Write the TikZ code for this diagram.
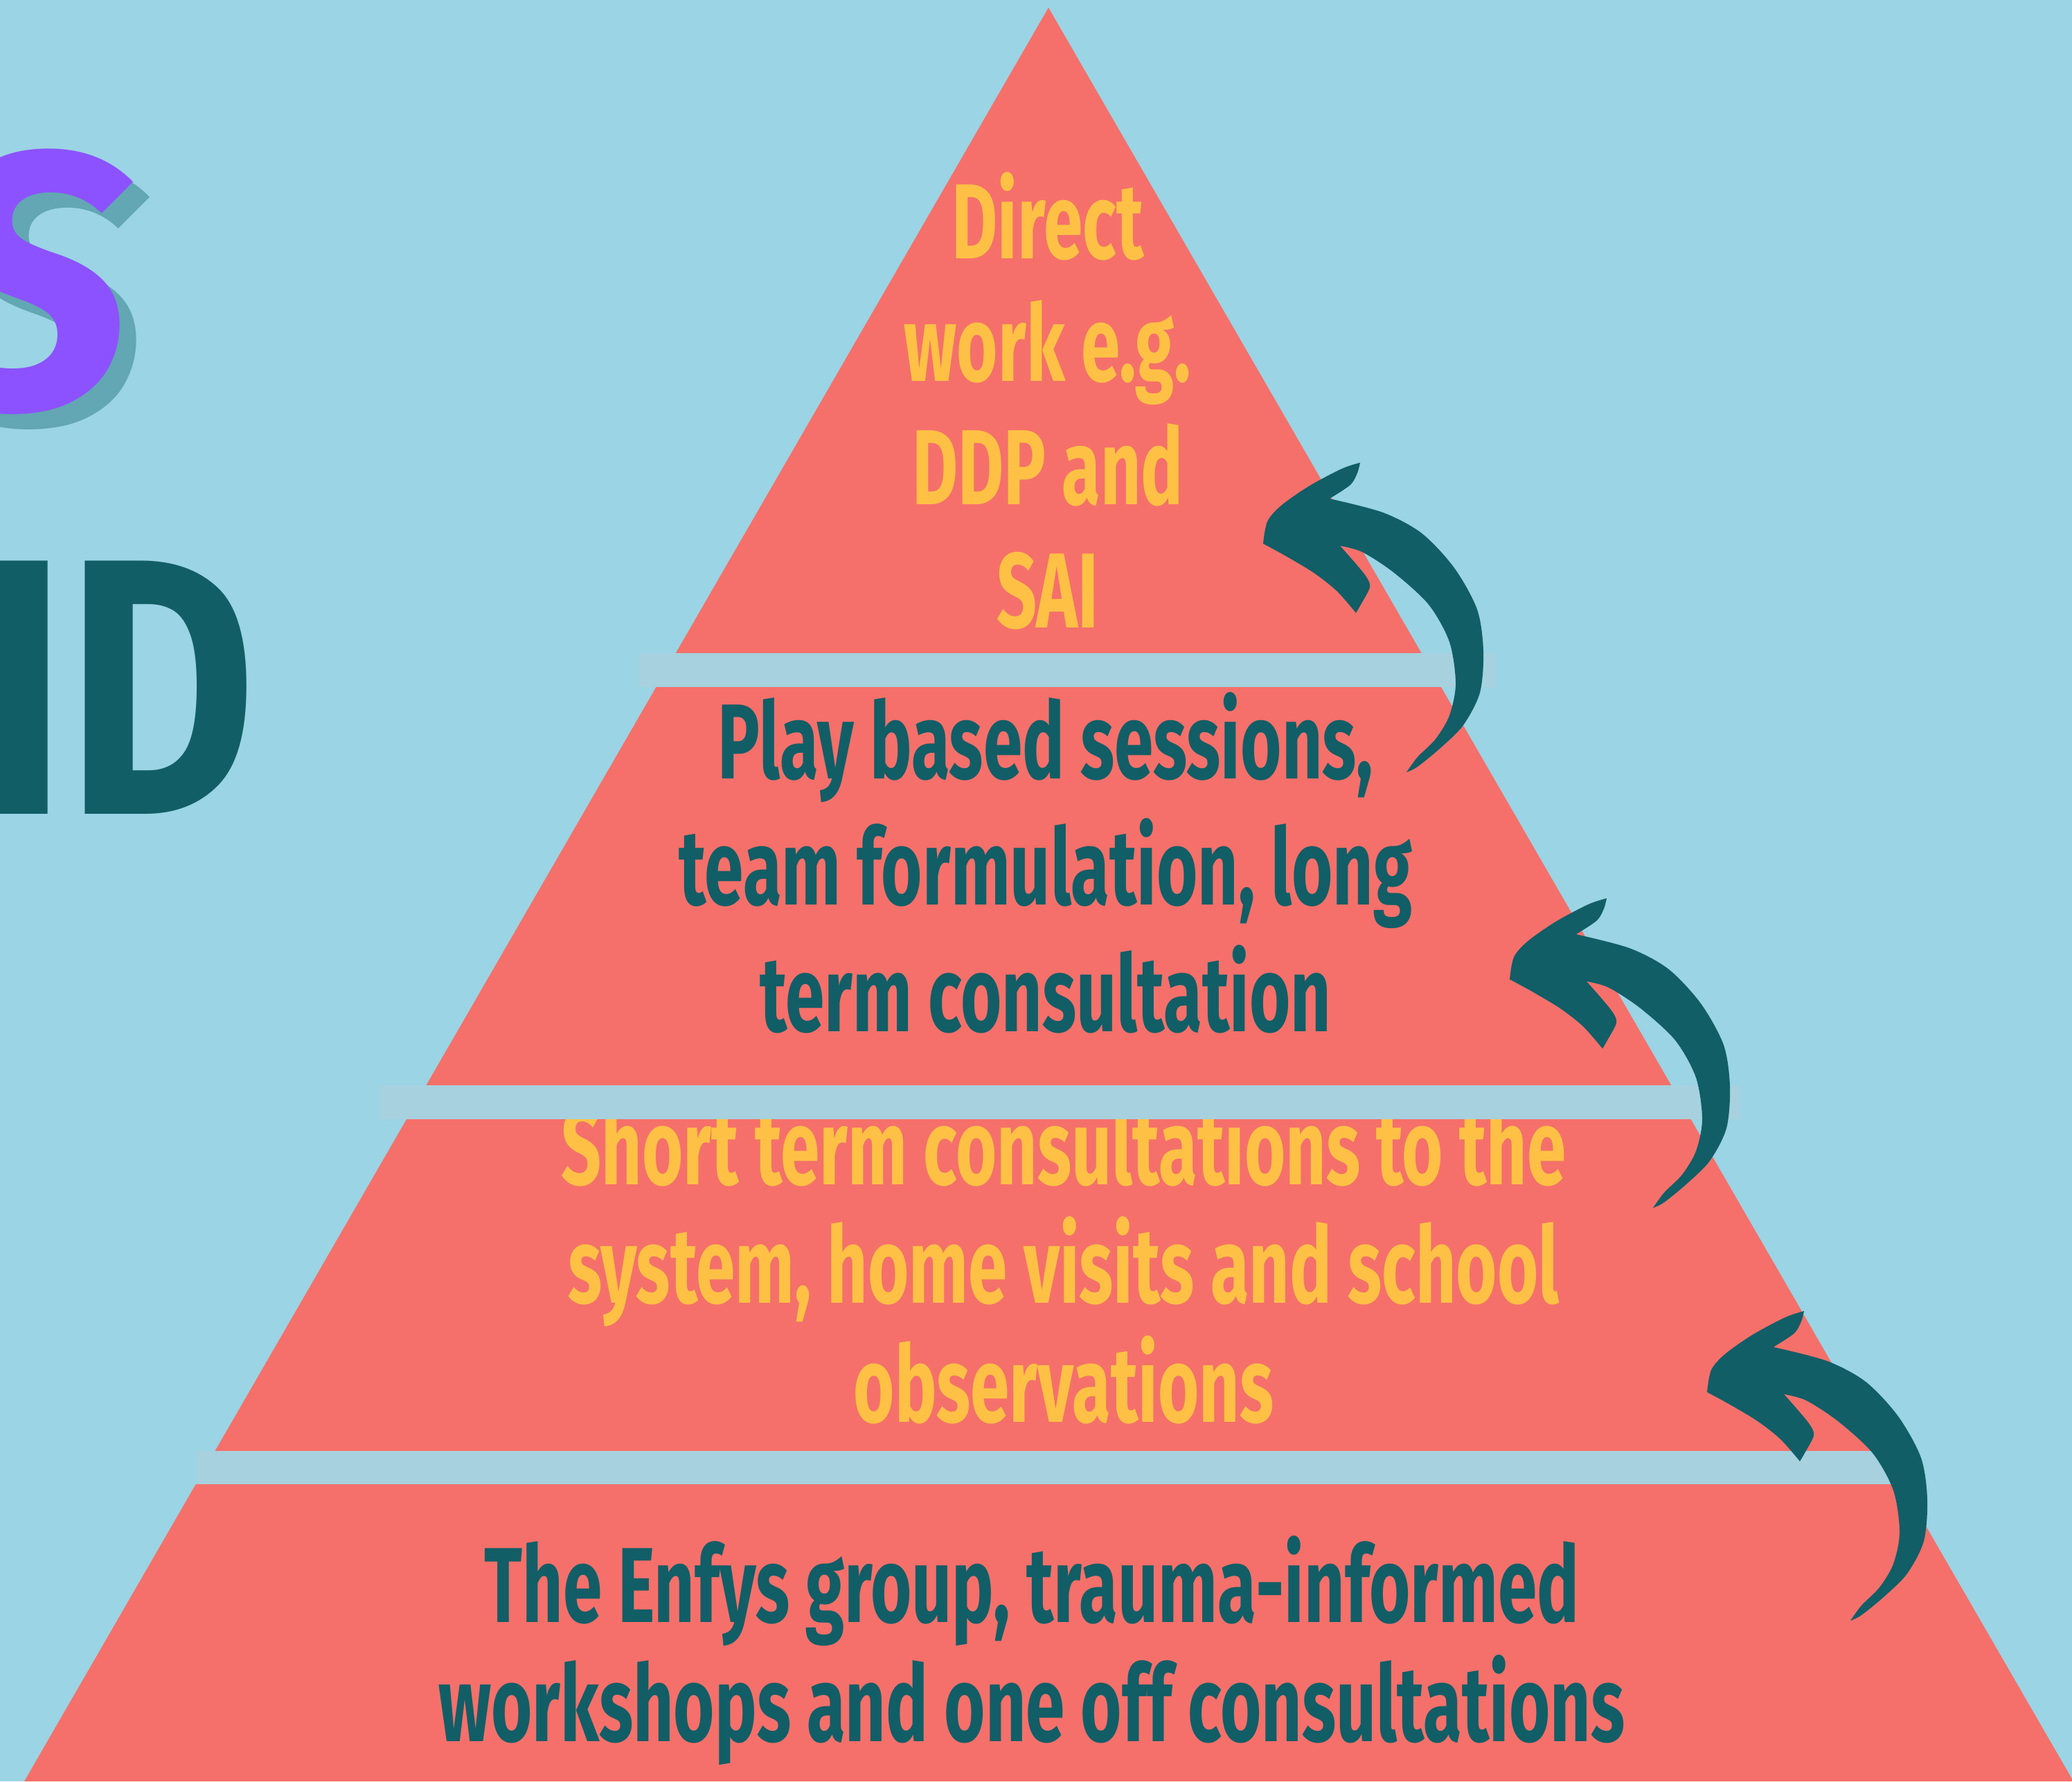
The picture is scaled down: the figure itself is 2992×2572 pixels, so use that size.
\documentclass[tikz,border=0pt]{standalone}
\usepackage{fontspec}
\newfontfamily\pyrfont{Fira Sans}[FakeStretch=0.66]
\newfontfamily\brushfont{Fira Sans}
\usetikzlibrary{positioning}
\definecolor{skyblue}{HTML}{9BD4E4}
\definecolor{pyrsalmon}{HTML}{F5706A}
\definecolor{ledgeblue}{HTML}{A7D1DE}
\definecolor{sunyellow}{HTML}{FFC145}
\definecolor{deepteal}{HTML}{115E67}
\definecolor{brushpurple}{HTML}{8C52FF}
\definecolor{brushshadow}{HTML}{62A7B3}

\begin{document}
\begin{tikzpicture}[x=0.01cm,y=-0.01cm,
    tier/.style={font=\pyrfont\bfseries\fontsize{43.8}{#1}\selectfont,text width=20cm,align=center,anchor=base,inner sep=0pt,
      execute at begin node={\spaceskip=0.15em\relax}},
    ledge/.style={fill=ledgeblue},
    brush/.style={font=\brushfont\bfseries\fontsize{150}{150}\selectfont,inner sep=0pt},
    pics/curlarrow/.style={code={
      \fill[deepteal] plot[smooth] coordinates {(0,0) (6,-32) (26,-55) (66,-83) (113,-108) (140,-117)}
        -- plot[smooth] coordinates {(140,-117) (136,-102) (126,-85) (99,-67)}
        -- plot[smooth] coordinates {(96,-65) (173,-45) (229,-15) (276,35) (309,95) (318,155) (313,215) (289,262) (256,295) (223,322) (207,330)}
        -- plot[smooth] coordinates {(207,330) (223,308) (249,282) (269,248) (278,202) (269,142) (239,88) (189,42) (143,12) (111,3)}
        -- plot[smooth] coordinates {(111,3) (133,28) (149,48) (154,63) (141,88) (134,100)}
        -- plot[smooth] coordinates {(134,100) (106,68) (73,42) (33,18) (0,0)} -- cycle;
    }}]
  \useasboundingbox (0,0) rectangle (2992,2572);
  \clip (0,0) rectangle (2992,2572);
  \fill[skyblue] (0,0) rectangle (2992,2572);

  % title letters, cut by the left edge
  \node[brush,text=brushshadow,anchor=base east] (s_shadow) at (214,611) {\itshape S};
  \node[brush,text=brushpurple,anchor=base east] (s_title) at (190,589) {\itshape S};
  \node[brush,text=deepteal,anchor=base east,xscale=0.8] (id_title) at (371,1175) {ID};

  % pyramid
  \coordinate (apex) at (1514,11);
  \coordinate (base_l) at (35,2572);
  \coordinate (base_r) at (2994,2572);
  \fill[pyrsalmon] (apex) -- (base_l) -- (base_r) -- cycle;

  \node[tier=50.6,text=sunyellow] (direct) at (1513,373) {Direct\\work e.g.\\DDP and\\SAI};
  \node[tier=52,text=deepteal] (play) at (1510,1124) {Play based sessions,\\team formulation, long\\term consultation};
  \node[tier=48.9,text=sunyellow] (short) at (1536,1710) {Short term consultations to the\\system, home visits and school\\observations};
  \node[tier=48.9,text=deepteal] (enfys) at (1490,2342) {The Enfys group, trauma-informed\\workshops and one off consultations};

  % ledges between the tiers
  \fill[ledge] (923,943) rectangle (2159,992);
  \fill[ledge] (548,1567) rectangle (2513,1616);
  \fill[ledge] (283,2095) rectangle (2740,2143);

  % arrows up the pyramid
  \pic at (1824,785) {curlarrow};
  \pic at (2180,1414) {curlarrow};
  \pic at (2465,2010) {curlarrow};
\end{tikzpicture}
\end{document}
